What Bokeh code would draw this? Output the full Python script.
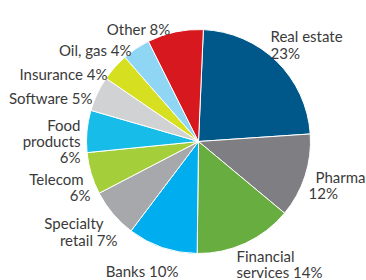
from bokeh.plotting import figure
from bokeh.models import ColumnDataSource, Range1d
from bokeh.core.properties import value
from bokeh.embed import file_html
from bokeh.resources import INLINE
import math

# ---- data ----
sectors = ["Real estate", "Pharma", "Financial services", "Banks", "Specialty retail",
           "Telecom", "Food products", "Software", "Insurance", "Oil, gas", "Other"]
shares = [23, 12, 14, 10, 7, 6, 6, 5, 4, 4, 8]
label_texts = ["Real estate\n23%", "Pharma\n12%", "Financial\nservices 14%", "Banks 10%",
               "Specialty\nretail 7%", "Telecom\n6%", "Food\nproducts\n6%", "Software 5%",
               "Insurance 4%", "Oil, gas 4%", "Other 8%"]

# ---- style / layout ----
colors = ["#00578a", "#7f7f83", "#67ad3f", "#00aeef", "#a6a8ab", "#a4ce3a",
          "#17bce9", "#d0d2d3", "#d7df21", "#8fd6f5", "#d7181f"]
W, H = 366, 280
CX, CY = 198, 141          # pie centre in page pixels
R = 112
start_deg = 87.5
# per text line: (anchor x, baseline y) in page pixels, and alignment
line_layout = [
    [(270, 35, "left"), (270, 52, "left")],
    [(315, 176, "left"), (308, 192, "left")],
    [(236, 255, "left"), (236, 271, "left")],
    [(178, 270, "right")],
    [(103, 222, "right"), (117, 239, "right")],
    [(83, 178, "right"), (90, 194, "right")],
    [(80, 124, "right"), (80, 140, "right"), (80, 156, "right")],
    [(92, 97, "right")],
    [(107, 73, "right")],
    [(131, 49, "right")],
    [(170, 28, "right")],
]

total = sum(shares)
unit = 360.0 / total
starts, ends = [], []
cum = 0
for s in shares:
    starts.append(math.radians(start_deg - cum * unit))
    cum += s
    ends.append(math.radians(start_deg - cum * unit))

src = ColumnDataSource(dict(start=starts, end=ends, color=colors, name=sectors))

p = figure(width=W, height=H, output_backend="svg", toolbar_location=None,
           x_range=Range1d(-CX, W - CX), y_range=Range1d(CY - H, CY),
           min_border=0, min_border_left=0, min_border_right=0,
           min_border_top=0, min_border_bottom=0)
p.axis.visible = False
p.grid.visible = False
p.outline_line_color = None
p.background_fill_color = "white"
p.border_fill_color = "white"

p.wedge(x=0, y=0, radius=R, start_angle="start", end_angle="end", direction="clock",
        fill_color="color", line_color="white", line_width=1, source=src)

for lab, lay in zip(label_texts, line_layout):
    for line, (px, py, al) in zip(lab.split("\n"), lay):
        p.text(x=[px - CX], y=[CY - py], text=[line], text_align=al,
               text_baseline="alphabetic", text_font=value("Lato"),
               text_font_size="15px", text_color="#3a3a3a")

open("out.html", "w").write(file_html(p, INLINE))
